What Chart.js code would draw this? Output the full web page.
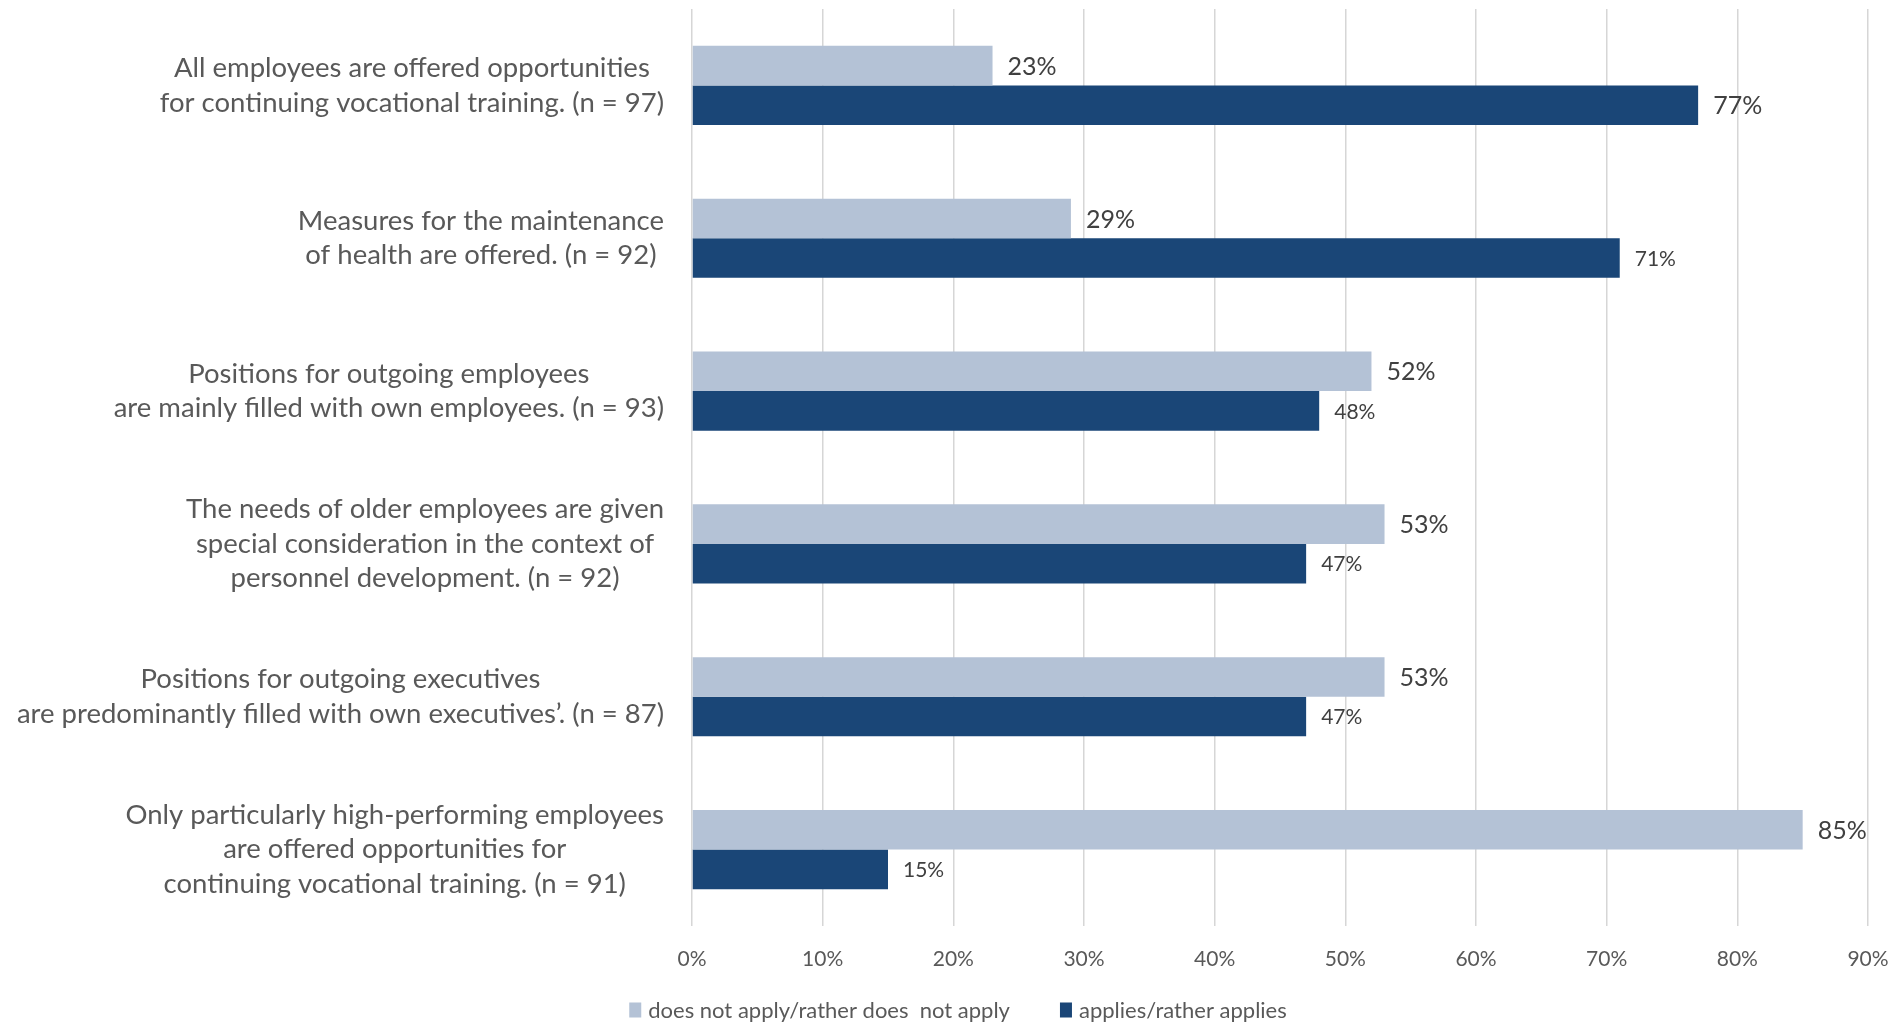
<!DOCTYPE html>
<html>
<head>
<meta charset="utf-8">
<script src="https://cdn.jsdelivr.net/npm/chart.js@4.4.1/dist/chart.umd.min.js"></script>
<style>
  html, body { margin: 0; padding: 0; background: #ffffff; overflow: hidden; }
  #wrap { width: 1904px; height: 1023px; position: relative; }
  canvas { display: block; }
</style>
</head>
<body>
<div id="wrap"><canvas id="chart" width="1904" height="1023"></canvas></div>
<script>
// Statements (each entry is one label, split into its lines)
const categories = [
  ["All employees are offered opportunities", "for continuing vocational training. (n = 97)"],
  ["Measures for the maintenance", "of health are offered. (n = 92)"],
  ["Positions for outgoing employees", "are mainly filled with own employees. (n = 93)"],
  ["The needs of older employees are given", "special consideration in the context of", "personnel development. (n = 92)"],
  ["Positions for outgoing executives", "are predominantly filled with own executives\u2019. (n = 87)"],
  ["Only particularly high-performing employees", "are offered opportunities for", "continuing vocational training. (n = 91)"]
];

const seriesNames = ["does not apply/rather does  not apply", "applies/rather applies"];

// Shares in percent
const doesNotApply = [23, 29, 52, 53, 53, 85];
const applies = [77, 71, 48, 47, 47, 15];

// Axis range and tick step (percent)
const axisMin = 0;
const axisMax = 90;
const axisStep = 10;

const FONT = "Lato, 'Open Sans', sans-serif";
const TEXT_GREY = "#595959";
const LABEL_GREY = "#404040";

// Value labels at the end of each bar
const barValueLabels = {
  id: "barValueLabels",
  afterDatasetsDraw(chart) {
    const ctx = chart.ctx;
    ctx.save();
    ctx.fillStyle = LABEL_GREY;
    ctx.textAlign = "left";
    ctx.textBaseline = "middle";
    chart.data.datasets.forEach((ds, di) => {
      const meta = chart.getDatasetMeta(di);
      meta.data.forEach((bar, i) => {
        const size = ds.valueLabelSizes[i];
        ctx.font = size + "px " + FONT;
        ctx.fillText(ds.data[i] + "%", bar.x + 15, bar.y + 1);
      });
    });
    ctx.restore();
  }
};

// Category labels: block right-aligned to the plot, lines centred within the block
const categoryLabels = {
  id: "categoryLabels",
  afterDraw(chart) {
    const ctx = chart.ctx;
    const yScale = chart.scales.y;
    const right = chart.chartArea.left - 28;
    const lineH = 34.5;
    ctx.save();
    ctx.font = "27.5px " + FONT;
    ctx.fillStyle = TEXT_GREY;
    ctx.textAlign = "center";
    ctx.textBaseline = "middle";
    chart.data.labels.forEach((lines, i) => {
      const w = Math.max(...lines.map(l => ctx.measureText(l).width));
      const cx = right - w / 2;
      const cy = yScale.getPixelForValue(i);
      const y0 = cy - (lines.length - 1) * lineH / 2;
      lines.forEach((l, k) => ctx.fillText(l, cx, y0 + k * lineH));
    });
    ctx.restore();
  }
};

// Single-row legend along the bottom
const bottomLegend = {
  id: "bottomLegend",
  afterDraw(chart) {
    const ctx = chart.ctx;
    const box = 12, boxH = 15, textGap = 7, itemGap = 50;
    ctx.save();
    ctx.font = "22px " + FONT;
    ctx.textBaseline = "middle";
    ctx.textAlign = "left";
    const items = chart.data.datasets.map(ds => ({
      text: ds.label, color: ds.backgroundColor,
      w: box + textGap + ctx.measureText(ds.label).width
    }));
    const total = items.reduce((s, it) => s + it.w, 0) + itemGap * (items.length - 1);
    let x = chart.width / 2 - total / 2 + 6;
    const y = 1010;
    items.forEach(it => {
      ctx.fillStyle = it.color;
      ctx.fillRect(x, y - boxH / 2, box, boxH);
      ctx.fillStyle = TEXT_GREY;
      ctx.fillText(it.text, x + box + textGap, y + 1);
      x += it.w + itemGap;
    });
    ctx.restore();
  }
};

new Chart(document.getElementById("chart"), {
  type: "bar",
  data: {
    labels: categories,
    datasets: [
      {
        label: seriesNames[0],
        data: doesNotApply,
        backgroundColor: "#b4c2d6",
        valueLabelSizes: [25, 25, 25, 25, 25, 25]
      },
      {
        label: seriesNames[1],
        data: applies,
        backgroundColor: "#1a4677",
        valueLabelSizes: [25, 21, 21, 21, 21, 21]
      }
    ]
  },
  options: {
    indexAxis: "y",
    responsive: false,
    devicePixelRatio: 1,
    animation: false,
    layout: { padding: { top: 9, right: 36, bottom: 0, left: 0 } },
    datasets: { bar: { categoryPercentage: 0.518, barPercentage: 1.0, borderWidth: 0 } },
    scales: {
      x: {
        min: axisMin,
        max: axisMax,
        grid: { color: "#d6d6d6", lineWidth: 1.5, drawTicks: false },
        border: { display: false },
        ticks: {
          stepSize: axisStep,
          padding: 21,
          color: TEXT_GREY,
          font: { family: FONT, size: 21 },
          callback: v => v + "%"
        },
        afterFit(scale) {
          scale.height = 97;
          scale.paddingRight = 0;
        }
      },
      y: {
        grid: { display: false },
        border: { display: false },
        ticks: { display: false },
        afterFit(scale) { scale.width = 692; }
      }
    },
    plugins: {
      legend: { display: false },
      tooltip: { enabled: false }
    }
  },
  plugins: [barValueLabels, categoryLabels, bottomLegend]
});
</script>
</body>
</html>
